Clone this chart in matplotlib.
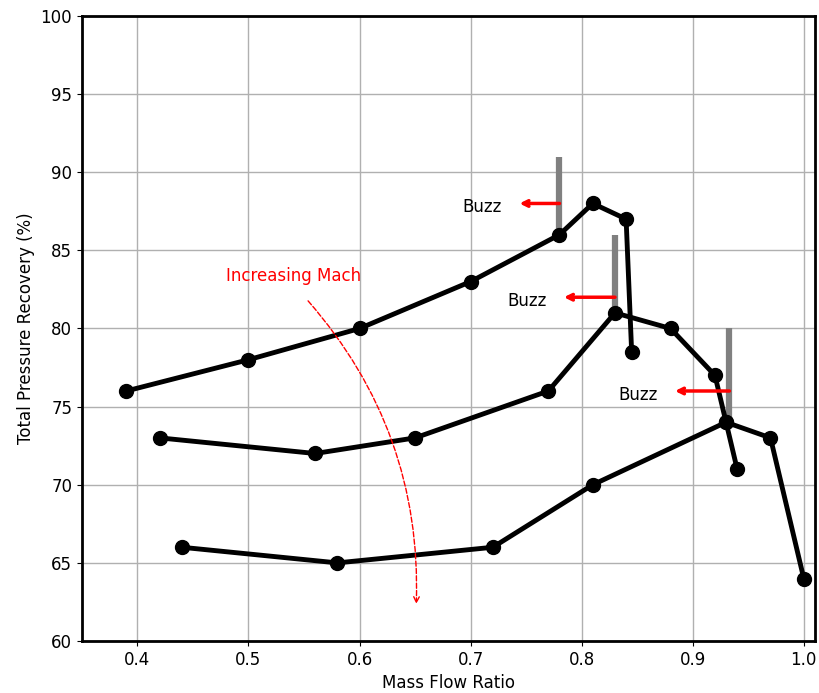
import matplotlib
matplotlib.use('Agg')
import matplotlib.pyplot as plt

# Data
mfr_1 = [0.39, 0.50, 0.60, 0.70, 0.78, 0.81, 0.84, 0.845]
tpr_1 = [76, 78, 80, 83, 86, 88, 87, 78.5]

mfr_2 = [0.42, 0.56, 0.65, 0.77, 0.83, 0.88, 0.92, 0.93, 0.94]
tpr_2 = [73, 72, 73, 76, 81, 80, 77, 74, 71]

mfr_3 = [0.44, 0.58, 0.72, 0.81, 0.93, 0.97, 1.00]
tpr_3 = [66, 65, 66, 70, 74, 73, 64]

# buzz limits: bar x, bar bottom, bar top, arrow y, arrow head x
buzz_x = [0.78, 0.83, 0.933]
buzz_lo = [86, 81, 74]
buzz_hi = [91, 86, 80]
buzz_arrow_y = [88, 82, 76]
buzz_head_x = [0.744, 0.784, 0.884]

fig = plt.figure(figsize=(8.19, 6.93), dpi=100)
ax = fig.add_axes([0.100, 0.075, 0.895, 0.902])

for xs, ys in [(mfr_1, tpr_1), (mfr_2, tpr_2), (mfr_3, tpr_3)]:
    ax.plot(xs, ys, color='black', linewidth=3.5, marker='o', markersize=10, zorder=3)

for bx, lo, hi, ay, hx in zip(buzz_x, buzz_lo, buzz_hi, buzz_arrow_y, buzz_head_x):
    ax.plot([bx, bx], [lo, hi], color='gray', linewidth=4.5, solid_capstyle='butt', zorder=2)
    ax.annotate('', xy=(hx, ay), xytext=(bx, ay),
                arrowprops=dict(arrowstyle='->', color='red', lw=2.5,
                                shrinkA=0, shrinkB=0), zorder=4)
    ax.text(hx - 0.051, ay - 0.25, 'Buzz', fontsize=12, va='center', ha='left')

ax.text(0.48, 83.35, 'Increasing Mach', color='red', fontsize=12, va='center')
ax.annotate('', xy=(0.651, 62.2), xytext=(0.552, 81.9),
            arrowprops=dict(arrowstyle='->', color='red', lw=1, linestyle='--',
                            connectionstyle='arc3,rad=-0.2'))

ax.set_xlim(0.35, 1.01)
ax.set_ylim(60, 100)
ax.set_xticks([0.4, 0.5, 0.6, 0.7, 0.8, 0.9, 1.0])
ax.set_yticks(range(60, 101, 5))
ax.tick_params(labelsize=12)
ax.set_xlabel('Mass Flow Ratio', fontsize=12)
ax.set_ylabel('Total Pressure Recovery (%)', fontsize=12)
ax.grid(True, color='#b0b0b0', linewidth=1)
ax.set_axisbelow(True)
for s in ax.spines.values():
    s.set_linewidth(2)

fig.savefig('out.png', dpi=100)
